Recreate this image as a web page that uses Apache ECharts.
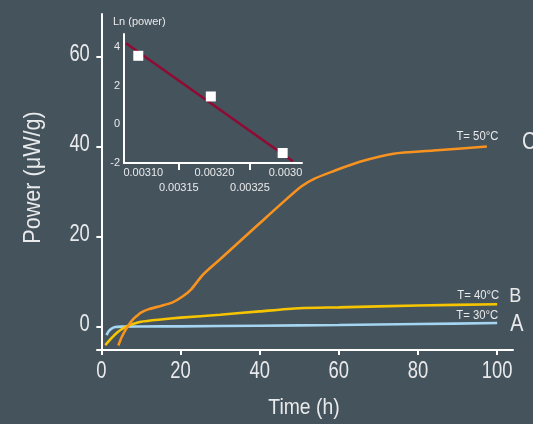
<!DOCTYPE html>
<html>
<head>
<meta charset="utf-8">
<script src="https://cdn.jsdelivr.net/npm/echarts@6/dist/echarts.min.js"></script>
<style>
  html, body { margin: 0; padding: 0; background: #45535d; }
  #chart { width: 533px; height: 424px; }
</style>
</head>
<body>
<div id="chart"></div>
<script>
// Heat flow curves: [time (h), power (µW/g)]
const curveA = [[1.3,-1.9],[1.8,-1.1],[2.5,-0.5],[3.5,-0.1],[5,0],[10,0.03],[20,0.07],[40,0.2],[60,0.36],[80,0.58],[100,0.8]];
const curveB = [[1.0,-4.1],[2.5,-2.6],[4,-1.3],[6,-0.1],[8,0.6],[10,1.1],[15,1.6],[20,2.0],[30,2.65],[40,3.4],[50,4.1],[60,4.3],[80,4.7],[100,5.0]];
const curveC = [[4.3,-4.2],[5,-2.6],[6,-0.9],[7,0.5],[8,1.6],[9,2.4],[10,3.1],[12,3.9],[15,4.6],[18,5.4],[20.5,6.7],[22.7,8.3],[25.6,11.5],[30,15.0],[35,19.0],[40,23.0],[45,27.0],[50.5,31.2],[54,33.0],[58.6,34.6],[65.3,36.7],[73.8,38.5],[83.9,39.2],[97.4,40.1]];

const curves = [curveA, curveB, curveC];
const curveColors = ['#a5d5f1', '#f6c500', '#f7931e'];
const tempLabels = ['T= 30°C', 'T= 40°C', 'T= 50°C'];
const curveLetters = ['A', 'B', 'C'];

const mainXTicks = [0, 20, 40, 60, 80, 100];
const mainYTicks = [0, 20, 40, 60];

// Arrhenius inset: 1/T versus ln(power)
const invTemp = [0.003093, 0.003195, 0.003296];
const lnPower = [3.56, 1.45, -1.48];
const fitInvTemp = [0.0030757, 0.0033103];
const fitLnPower = [4.21, -1.91];

const insetXTicks = [0.0031, 0.00315, 0.0032, 0.00325, 0.0033];
const insetXLabels = ['0.00310', '0.00315', '0.00320', '0.00325', '0.0030'];
const insetMinorTicks = [0.00315, 0.00325];
const insetYTicks = [-2, 0, 2, 4];

const sans = "'Liberation Sans', Arial, sans-serif";
const textColor = '#e9eaeb';

const Y_MIN = -5.2, Y_MAX = 69.6, X_MIN = -1.1, X_MAX = 104;

const chart = echarts.init(document.getElementById('chart'), null, { renderer: 'canvas' });

chart.setOption({
  backgroundColor: '#45535d',
  animation: false,
  grid: [
    { left: 97, top: 14, width: 416, height: 336 },
    { left: 124, top: 34, width: 178, height: 129 }
  ],
  xAxis: [
    {
      type: 'value', gridIndex: 0, min: X_MIN, max: X_MAX,
      splitLine: { show: false },
      axisLine: { onZero: false, lineStyle: { color: '#ffffff', width: 2 } },
      axisTick: { show: true, customValues: mainXTicks, length: 5, lineStyle: { color: '#ffffff', width: 2 } },
      axisLabel: { show: false }
    },
    {
      type: 'value', gridIndex: 1, min: 0.0030729, max: 0.0033232,
      splitLine: { show: false },
      axisLine: { onZero: false, lineStyle: { color: '#ffffff', width: 2 } },
      axisTick: { show: true, customValues: insetMinorTicks, length: 7, lineStyle: { color: '#ffffff', width: 2 } },
      axisLabel: { show: false }
    }
  ],
  yAxis: [
    {
      type: 'value', gridIndex: 0, min: Y_MIN, max: Y_MAX,
      splitLine: { show: false },
      axisLine: { onZero: true, lineStyle: { color: '#ffffff', width: 2 } },
      axisTick: { show: true, customValues: mainYTicks, length: 5, lineStyle: { color: '#ffffff', width: 2 } },
      axisLabel: { show: false }
    },
    {
      type: 'value', gridIndex: 1, min: -2, max: 4.69,
      splitLine: { show: false },
      axisLine: { onZero: false, lineStyle: { color: '#ffffff', width: 2 } },
      axisTick: { show: false },
      axisLabel: { customValues: insetYTicks, color: textColor, fontFamily: sans, fontSize: 11, margin: 4 }
    }
  ],
  series: [
    ...curves.map((c, i) => ({
      name: curveLetters[i], type: 'line', xAxisIndex: 0, yAxisIndex: 0, data: c,
      showSymbol: false, smooth: 0.25,
      lineStyle: { color: curveColors[i], width: 2.6 }, z: 3 + i
    })),
    {
      name: 'fit', type: 'line', xAxisIndex: 1, yAxisIndex: 1,
      data: fitInvTemp.map((x, i) => [x, fitLnPower[i]]),
      showSymbol: false, lineStyle: { color: '#8f0b33', width: 2.6 }, z: 6
    },
    {
      name: 'points', type: 'scatter', xAxisIndex: 1, yAxisIndex: 1,
      data: invTemp.map((x, i) => [x, lnPower[i]]),
      symbol: 'rect', symbolSize: 10,
      itemStyle: { color: '#ffffff', opacity: 1 }, z: 7
    }
  ]
});

// Condensed text: Liberation Sans squeezed horizontally around its anchor
function label(text, x, y, size, sx, align, vAlign, rotation) {
  return {
    type: 'text', x: x, y: y, scaleX: sx, rotation: rotation || 0, silent: true,
    style: { text: text, fill: textColor, font: size + 'px ' + sans,
             align: align, verticalAlign: vAlign }
  };
}

function drawTexts() {
  const main = { xAxisIndex: 0, yAxisIndex: 0 };
  const inset = { xAxisIndex: 1, yAxisIndex: 1 };
  const g = [];

  mainXTicks.forEach(t => {
    const p = chart.convertToPixel(main, [t, Y_MIN]);
    g.push(label(String(t), p[0], p[1] + 21.5, 23, 0.8, 'center', 'middle'));
  });
  mainYTicks.forEach(v => {
    const p = chart.convertToPixel(main, [0, v]);
    g.push(label(String(v), p[0] - 11.5, p[1] - 2, 23, 0.8, 'right', 'middle'));
  });

  const xMid = chart.convertToPixel(main, [(X_MIN + X_MAX) / 2, Y_MIN]);
  g.push(label('Time (h)', xMid[0] - 1, xMid[1] + 58, 22, 0.88, 'center', 'middle'));
  const yMid = chart.convertToPixel(main, [X_MIN, (Y_MIN + Y_MAX) / 2]);
  g.push(label('Power (μW/g)', 33, yMid[1] - 4.5, 24, 0.9, 'center', 'middle', Math.PI / 2));

  // Temperature tags and curve letters at the curve ends
  const tagOffsets = [[1, -8], [2, -9], [11.5, -10.5]];
  const letterOffsets = [[13, 2], [12, -7.5], [35, -3.5]];
  const letterSizes = [23, 21, 23];
  curves.forEach((c, i) => {
    const p = chart.convertToPixel(main, c[c.length - 1]);
    g.push(label(tempLabels[i], p[0] + tagOffsets[i][0], p[1] + tagOffsets[i][1], 13, 0.87, 'right', 'middle'));
    g.push(label(curveLetters[i], p[0] + letterOffsets[i][0], p[1] + letterOffsets[i][1], letterSizes[i], 0.86, 'left', 'middle'));
  });

  // Inset: staggered 1/T labels and the axis title
  insetXTicks.forEach((t, i) => {
    const p = chart.convertToPixel(inset, [t, -2]);
    g.push(label(insetXLabels[i], p[0], p[1] + (i % 2 ? 24.5 : 9.5), 11, 1, 'center', 'middle'));
  });
  g.push(label('Ln (power)', 113, 21.5, 11, 1, 'left', 'middle'));

  chart.setOption({ graphic: g });
}
drawTexts();
</script>
</body>
</html>
